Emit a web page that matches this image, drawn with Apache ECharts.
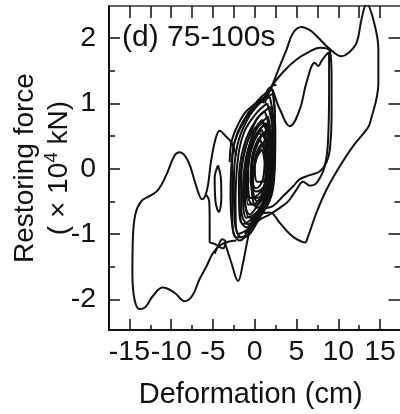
<!DOCTYPE html>
<html>
<head>
<meta charset="utf-8">
<script src="https://cdn.jsdelivr.net/npm/echarts@6/dist/echarts.min.js"></script>
<style>
html, body { margin: 0; padding: 0; background: #fff; }
#main { width: 400px; height: 414px; }
</style>
</head>
<body>
<div id="main"></div>
<script>
// tick positions
var xTicks = [-15, -10, -5, 0, 5, 10, 15];
var xMinor = [-12.5, -7.5, -2.5, 2.5, 7.5, 12.5];
var xTop = [-15, -12.5, -10, -7.5, -5, -2.5, 0, 2.5, 5, 7.5, 10, 12.5, 15];
var yTicks = [-2, -1, 0, 1, 2];
var yMinor = [-1.5, -0.5, 0.5, 1.5];

// hysteresis path pieces, [deformation cm, force x10^4 kN]
var leftLoop = [[-2.2,-1.1],[-3.2,-1.12],[-4.2,-1.18],[-5.0,-1.29],[-5.8,-1.5],[-6.6,-1.69],[-7.5,-1.95],[-8.4,-2.03],
  [-9.6,-1.9],[-11.0,-1.82],[-12.2,-1.95],[-13.1,-2.12],[-13.8,-2.15],[-14.4,-2.0],[-14.65,-1.6],[-14.6,-1.1],
  [-14.3,-0.7],[-13.6,-0.5],[-12.6,-0.42],[-11.6,-0.33],[-10.6,-0.1],[-9.6,0.2],[-9.0,0.25],[-8.0,0.12],
  [-7.0,-0.27],[-6.3,-0.47],[-5.7,-0.32],[-5.25,0.1],[-4.7,0.45],[-4.2,0.58],[-3.5,0.5],[-2.8,0.4],[-2.2,0.2]];
var upperEdge = [[-3.0,0.1],[-2.8,0.4],[-2.2,0.62],[-1.2,0.85],[-0.2,0.97],[0.8,1.06],[1.6,1.15],[2.1,1.27],[2.6,1.28]];
var vertLine = [[-5.8,-0.4],[-5.45,-0.5],[-5.4,-0.8],[-5.4,-1.12],[-4.8,-1.15],[-4.2,-1.2],[-3.8,-1.22],[-3.5,-1.12],[-3.9,-1.08],[-4.3,-1.16],[-4.8,-1.3]];
var vDip = [[-3.6,-1.12],[-2.8,-1.44],[-2.0,-1.72],[-1.4,-1.44],[-0.8,-1.05],[-0.2,-0.75]];
var smallLoop = [[-4.4,0.05],[-4.05,-0.15],[-4.0,-0.45],[-4.3,-0.66],[-4.7,-0.5],[-4.8,-0.15],[-4.4,0.05]];
var rightOuter = [[1.4,1.1],[2.0,1.25],[3.0,1.57],[3.8,1.82],[4.6,2.08],[5.6,2.17],[6.6,2.12],[7.4,2.03],[9.0,1.83],
  [10.4,1.72],[11.2,1.77],[12.2,1.93],[12.8,2.3],[13.4,2.52],[14.2,2.28],[14.8,1.82],[14.8,1.32],[13.8,0.7],
  [13.4,0.6],[11.8,0.35],[10.2,0.04],[8.6,-0.32],[7.4,-0.67],[6.4,-1.03],[6.0,-1.13],[5.0,-1.08],[4.2,-1.0],
  [3.0,-0.83],[1.8,-0.67],[0.6,-0.7],[-0.8,-0.9]];
var rightInner = [[1.2,1.0],[2.0,1.25],[3.4,1.48],[5.0,1.67],[6.4,1.78],[7.8,1.85],[9.0,1.8],[9.2,1.4],[9.2,0.8],
  [9.0,0.3],[8.6,0.1],[7.8,-0.04],[6.6,-0.1],[5.4,-0.16],[4.6,-0.27],[3.4,-0.42],[2.2,-0.57],[1.0,-0.62],[0.0,-0.7]];
var rightBumpy = [[1.0,1.0],[1.8,1.24],[3.0,0.91],[4.2,0.65],[5.4,0.91],[6.2,1.32],[7.2,1.62],[7.6,1.57],[8.0,1.65],
  [8.6,1.75],[8.9,1.78],[8.9,1.2],[8.8,0.5],[8.4,0.05],[7.4,-0.22],[6.6,-0.26],[5.8,-0.2],[5.0,-0.32],[4.0,-0.5],
  [3.0,-0.6],[1.8,-0.7],[0.4,-0.8],[-1.2,-1.0]];

// central cluster of small cycles
var loopA = [[2.1,1.22],[2.4,0.9],[2.45,0.3],[2.2,-0.3],[0.6,-0.75],[-1.4,-1.05],[-2.3,-1.05],[-2.7,-0.6],[-2.7,0.1],[-2.2,0.5],[-0.8,0.85],[0.8,1.1],[2.1,1.22]];
var loopB = [[1.8,1.1],[2.2,0.75],[2.2,0.1],[1.7,-0.4],[0.2,-0.8],[-1.6,-1.05],[-2.4,-0.8],[-2.5,-0.2],[-2.1,0.35],[-0.9,0.75],[0.6,1.0],[1.8,1.1]];
var loopC = [[1.5,1.0],[2.1,0.6],[2.0,-0.1],[1.2,-0.5],[-0.6,-0.9],[-2.0,-1.0],[-2.3,-0.55],[-2.1,0.05],[-1.3,0.55],[0.2,0.85],[1.5,1.0]];
var loopD = [[1.9,0.95],[2.3,0.5],[2.0,-0.25],[0.8,-0.65],[-0.9,-0.9],[-1.8,-0.75],[-1.9,-0.2],[-1.3,0.35],[0.2,0.75],[1.9,0.95]];
var loopE = [[1.2,0.88],[1.9,0.45],[1.8,-0.25],[0.8,-0.6],[-0.8,-0.85],[-1.6,-0.65],[-1.6,-0.1],[-0.9,0.4],[0.2,0.75],[1.2,0.88]];
var loopF = [[1.6,0.8],[2.0,0.35],[1.6,-0.3],[0.4,-0.65],[-1.0,-0.75],[-1.4,-0.35],[-1.0,0.2],[0.2,0.6],[1.6,0.8]];
var loopG = [[0.9,0.75],[1.6,0.4],[1.5,-0.2],[0.6,-0.5],[-0.6,-0.7],[-1.2,-0.45],[-1.0,0.1],[-0.2,0.55],[0.9,0.75]];
var loopH = [[1.4,0.7],[1.9,0.25],[1.4,-0.3],[0.2,-0.55],[-0.8,-0.55],[-1.0,-0.15],[-0.4,0.35],[0.6,0.6],[1.4,0.7]];
var loopI = [[0.8,0.6],[1.5,0.3],[1.3,-0.2],[0.4,-0.4],[-0.5,-0.45],[-0.8,-0.1],[-0.3,0.35],[0.8,0.6]];
var loopJ = [[1.2,0.55],[1.7,0.15],[1.2,-0.25],[0.2,-0.35],[-0.5,-0.2],[-0.3,0.2],[0.4,0.45],[1.2,0.55]];
var loopK = [[0.6,0.45],[1.2,0.2],[1.0,-0.15],[0.2,-0.3],[-0.4,-0.15],[-0.2,0.2],[0.6,0.45]];
var loopL = [[1.0,0.4],[1.5,0.05],[1.0,-0.2],[0.3,-0.2],[0.0,0.1],[0.4,0.3],[1.0,0.4]];
var loopM = [[1.6,0.6],[2.0,0.1],[1.6,-0.35],[0.4,-0.5],[-0.4,-0.3],[-0.2,0.15],[0.8,0.5],[1.6,0.6]];
var loopN = [[2.2,1.15],[2.45,0.6],[2.3,-0.1],[1.4,-0.55],[-0.2,-0.85],[-1.8,-1.1],[-2.6,-0.95],[-2.9,-0.4],[-2.6,0.3],[-1.6,0.65],[0.4,1.0],[2.2,1.15]];
var loopO = [[1.0,0.7],[1.8,0.5],[1.9,0.0],[1.2,-0.45],[-0.2,-0.75],[-1.4,-0.85],[-1.8,-0.45],[-1.5,0.1],[-0.4,0.55],[1.0,0.7]];
var loopP = [[1.7,0.7],[2.2,0.2],[1.8,-0.45],[0.6,-0.7],[-0.6,-0.75],[-1.2,-0.3],[-0.6,0.3],[0.6,0.6],[1.7,0.7]];
var loopQ = [[0.4,0.55],[1.2,0.45],[1.4,0.0],[0.8,-0.4],[-0.2,-0.55],[-0.9,-0.35],[-0.7,0.15],[0.4,0.55]];
var loopR = [[1.3,0.45],[1.8,0.0],[1.3,-0.45],[0.3,-0.6],[-0.3,-0.4],[0.0,0.1],[1.3,0.45]];
var loopS = [[0.9,0.3],[1.3,-0.05],[0.9,-0.4],[0.1,-0.45],[-0.2,-0.2],[0.2,0.15],[0.9,0.3]];

var segments = [leftLoop, upperEdge, vertLine, vDip, smallLoop, rightOuter, rightInner, rightBumpy,
  loopA, loopB, loopC, loopD, loopE, loopF, loopG, loopH, loopI, loopJ, loopK, loopL, loopM,
  loopN, loopO, loopP, loopQ, loopR, loopS];

var font = 'Liberation Sans, Arial, sans-serif';
var ink = '#111';
var xMin = -17.45, xMax = 17.45, yMin = -2.47, yMax = 2.49;

var myChart = echarts.init(document.getElementById('main'), null, {renderer: 'canvas'});

var series = segments.map(function (seg) {
  return {
    type: 'line',
    xAxisIndex: 0,
    yAxisIndex: 0,
    data: seg,
    smooth: 0.4,
    showSymbol: false,
    silent: true,
    lineStyle: {color: ink, width: 2}
  };
});

var box = {left: 109, top: 6, width: 291.5, height: 324, outerBoundsMode: 'none'};

function plainAxis(extra) {
  return echarts.util.merge({
    type: 'value',
    splitLine: {show: false},
    axisLine: {onZero: false, lineStyle: {color: ink, width: 2}},
    axisTick: {inside: true, lineStyle: {color: ink, width: 1.5}},
    axisLabel: {show: false}
  }, extra, true);
}

var option = {
  animation: false,
  backgroundColor: '#fff',
  grid: [box, echarts.util.extend({}, box)],
  xAxis: [
    plainAxis({
      gridIndex: 0, position: 'bottom', min: xMin, max: xMax,
      axisTick: {length: 11, customValues: xTicks},
      axisLabel: {show: true, customValues: xTicks, margin: 8, fontSize: 28.5, color: ink, fontFamily: font},
      name: 'Deformation (cm)', nameLocation: 'middle', nameGap: 50,
      nameTextStyle: {fontSize: 29, color: ink, fontFamily: font, padding: [0, 8, 0, 0]}
    }),
    plainAxis({
      gridIndex: 0, position: 'top', min: xMin, max: xMax,
      axisLine: {lineStyle: {color: '#333', width: 1.5}},
      axisTick: {length: 12, customValues: xTop}
    }),
    plainAxis({
      gridIndex: 1, position: 'bottom', min: xMin, max: xMax,
      axisLine: {show: false},
      axisTick: {length: 5, customValues: xMinor}
    })
  ],
  yAxis: [
    plainAxis({
      gridIndex: 0, position: 'left', min: yMin, max: yMax,
      axisTick: {length: 11, customValues: yTicks},
      axisLabel: {show: true, customValues: yTicks, margin: 13, fontSize: 28.5, color: ink, fontFamily: font},
      name: '{a|Restoring force}\n{a|( × 10}{s|4}{a| kN)}', nameLocation: 'middle', nameGap: 33,
      nameMoveOverlap: false,
      nameTextStyle: {
        color: ink, fontFamily: font, lineHeight: 34,
        rich: {
          a: {fontSize: 28, lineHeight: 34, color: ink, fontFamily: font},
          s: {fontSize: 19, lineHeight: 34, color: ink, fontFamily: font, padding: [0, 0, 14, 0]}
        }
      }
    }),
    plainAxis({
      gridIndex: 0, position: 'right', min: yMin, max: yMax,
      axisLine: {show: false},
      axisTick: {length: 12, customValues: yTicks}
    }),
    plainAxis({
      gridIndex: 1, position: 'left', min: yMin, max: yMax,
      axisLine: {show: false},
      axisTick: {length: 6, customValues: yMinor}
    }),
    plainAxis({
      gridIndex: 1, position: 'right', min: yMin, max: yMax,
      axisLine: {show: false},
      axisTick: {length: 6, customValues: yMinor}
    })
  ],
  graphic: [
    {
      type: 'text', left: 122, top: 23,
      style: {text: '(d) 75-100s', fontSize: 30, fill: ink, fontFamily: font}
    }
  ],
  series: series
};

myChart.setOption(option);
</script>
</body>
</html>
